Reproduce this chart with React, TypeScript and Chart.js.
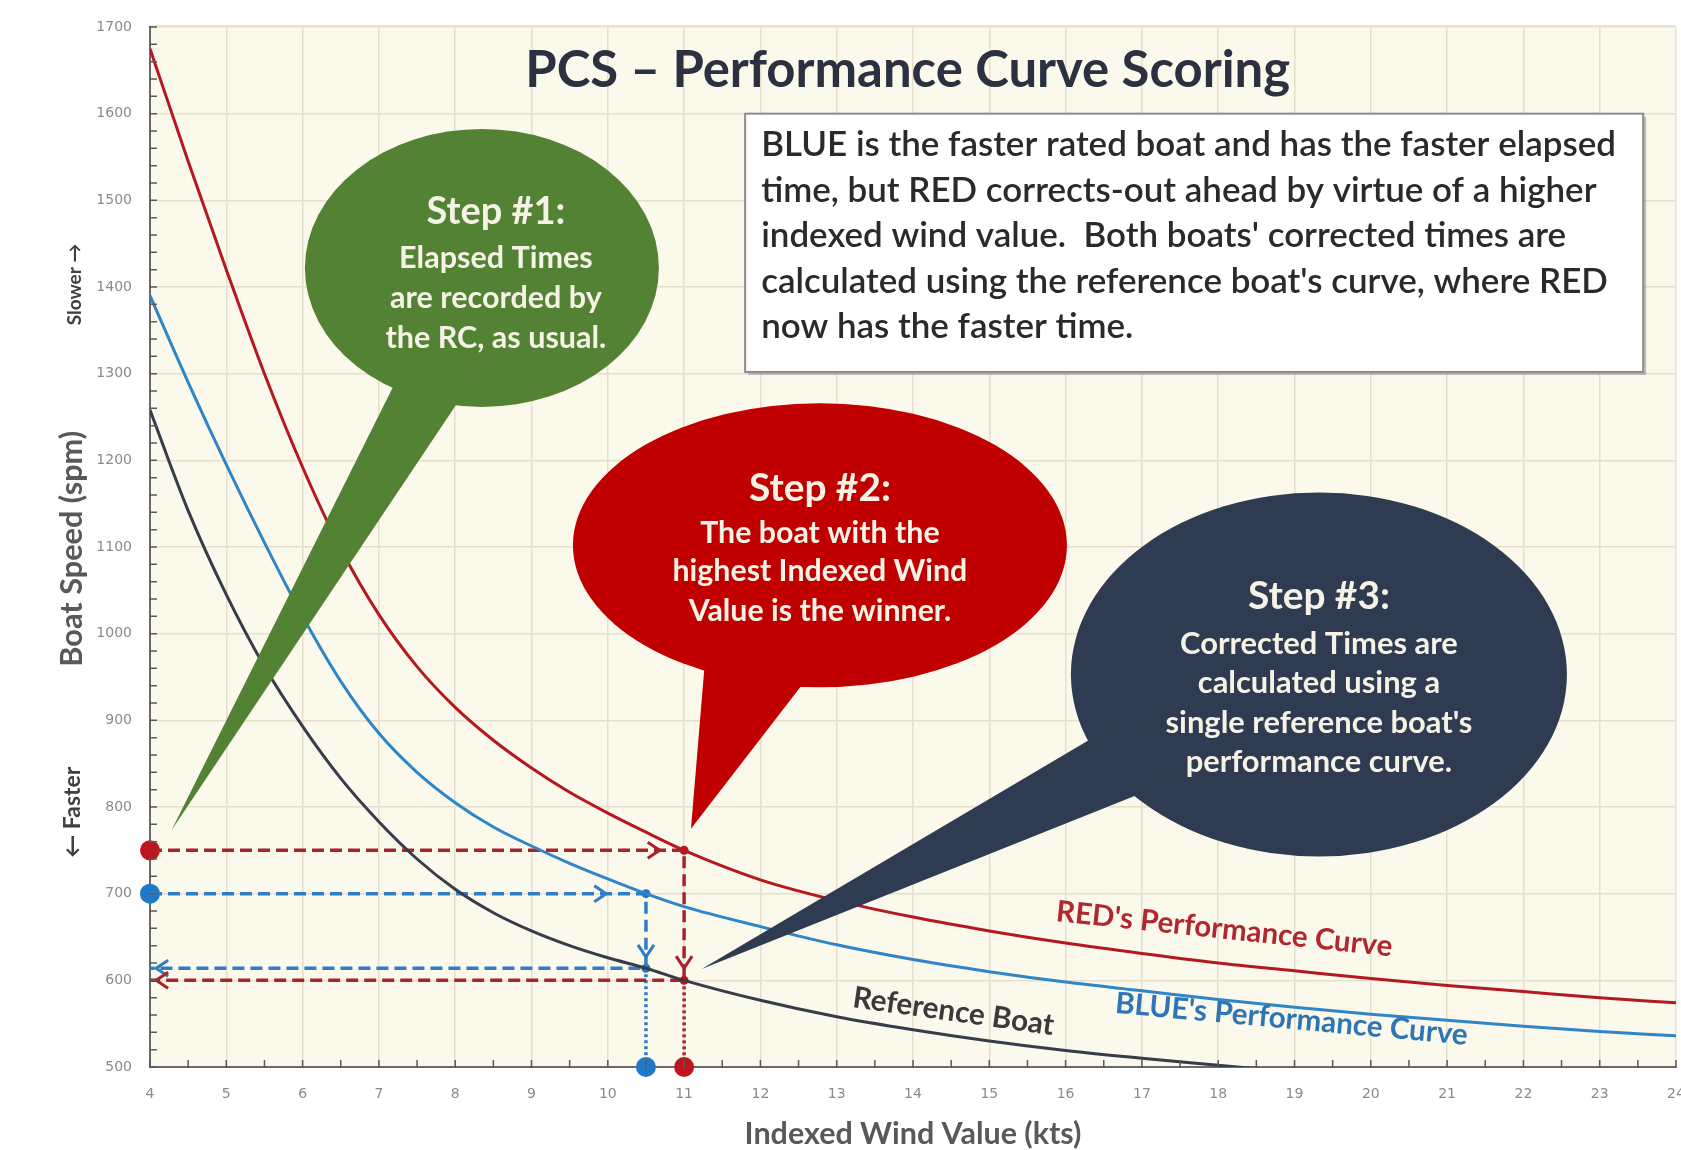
import React, { useEffect, useRef } from "react";
import { Chart, registerables } from "chart.js";

Chart.register(...registerables);

// ---------- data ----------
const windX = [4, 4.5, 5, 5.5, 6, 6.5, 7, 7.5, 8, 8.5, 9, 9.5, 10, 10.5, 11, 12, 13, 14, 15, 16, 17, 18, 19, 20, 21, 22, 23, 24];
const redSpeed = [1675, 1545, 1420, 1300, 1192, 1098, 1022, 962, 915, 877, 845, 817, 793, 771, 750, 716, 692, 673, 657, 643, 631, 620, 611, 602, 594, 587, 580, 574];
const blueSpeed = [1390, 1290, 1195, 1105, 1020, 945, 885, 840, 805, 777, 755, 735, 717, 700, 685, 662, 641, 624, 610, 598, 588, 578, 569, 561, 554, 547, 541, 536];
const refX = [4, 4.5, 5, 5.5, 6, 6.5, 7, 7.5, 8, 8.5, 9, 9.5, 10, 10.5, 11, 12, 13, 14, 15, 16, 17, 18, 19];
const refSpeed = [1258, 1142, 1045, 962, 893, 833, 783, 740, 705, 678, 657, 640, 626, 614, 600, 577, 558, 543, 530, 519, 510, 502, 494];

const redElapsed = 750;
const blueElapsed = 700;
const redWind = 11;
const blueWind = 10.5;
const redCorrected = 600;
const blueCorrected = 614;

const X_MIN = 4;
const X_MAX = 24;
const Y_MIN = 500;
const Y_MAX = 1700;

const titleText = "PCS \u2013 Performance Curve Scoring";
const boxLines = [
  "BLUE is the faster rated boat and has the faster elapsed",
  "time, but RED corrects-out ahead by virtue of a higher",
  "indexed wind value.  Both boats' corrected times are",
  "calculated using the reference boat's curve, where RED",
  "now has the faster time.",
];
const step1Lines = ["Step #1:", "Elapsed Times", "are recorded by", "the RC, as usual."];
const step2Lines = ["Step #2:", "The boat with the", "highest Indexed Wind", "Value is the winner."];
const step3Lines = ["Step #3:", "Corrected Times are", "calculated using a", "single reference boat's", "performance curve."];

// ---------- styles ----------
const FONT = "Lato, 'DejaVu Sans', sans-serif";
const RED = "#B3191F";
const BLUE = "#2E86C8";
const REF = "#363C48";
const RED_DASH = "#A8242B";
const BLUE_DASH = "#2F7DC4";
const PLOT_BG = "#FBF8EC";
const GRID = "#E6DFCA";

const CALLOUTS = [
  { color: "#548235", cx: 8.35, cy: 1422, rx: 177, ry: 139, tip: [4.28, 773], base: [97, 121], lines: step1Lines, offsets: [-56, -10, 30, 70], dx: 14, headW: 139, bodyIdx: 3, bodyW: 221 },
  { color: "#C00000", cx: 12.78, cy: 1102, rx: 247, ry: 142, tip: [11.09, 775], base: [93, 120], lines: step2Lines, offsets: [-57, -12, 26, 66], dx: 0, headW: 142, bodyIdx: 2, bodyW: 295 },
  { color: "#2F3B50", cx: 19.32, cy: 953, rx: 248, ry: 182, tip: [11.23, 613], base: [137, 160], lines: step3Lines, offsets: [-78, -30, 9, 49, 88], dx: 0, headW: 142, bodyIdx: 3, bodyW: 307 },
];

const CURVE_LABELS = [
  { text: "RED's Performance Curve", x: 18.08, y: 659, angle: 6, color: "#B0272D", width: 338 },
  { text: "BLUE's Performance Curve", x: 18.96, y: 555, angle: 5.2, color: "#2E75B6", width: 354 },
  { text: "Reference Boat", x: 14.53, y: 564, angle: 8, color: "#3A3A3A", width: 203 },
];

const ARROWS = [
  { x: 10.68, y: redElapsed, dir: "right", color: RED_DASH },
  { x: 9.98, y: blueElapsed, dir: "right", color: BLUE_DASH },
  { x: blueWind, y: 627, dir: "down", color: BLUE_DASH },
  { x: redWind, y: 614, dir: "down", color: RED_DASH },
  { x: 4.08, y: blueCorrected, dir: "left", color: BLUE_DASH },
  { x: 4.08, y: redCorrected, dir: "left", color: RED_DASH },
];

function fitSize(ctx: CanvasRenderingContext2D, text: string, weight: string, width: number) {
  ctx.font = `${weight} 100px ${FONT}`;
  const w = ctx.measureText(text).width;
  return (100 * width) / w;
}

function chevron(ctx: CanvasRenderingContext2D, px: number, py: number, dir: string, color: string) {
  const s = 12;
  const w = 8;
  ctx.beginPath();
  if (dir === "right") {
    ctx.moveTo(px - s, py - w); ctx.lineTo(px, py); ctx.lineTo(px - s, py + w);
  } else if (dir === "left") {
    ctx.moveTo(px + s, py - w); ctx.lineTo(px, py); ctx.lineTo(px + s, py + w);
  } else {
    ctx.moveTo(px - w, py - s); ctx.lineTo(px, py); ctx.lineTo(px + w, py - s);
  }
  ctx.strokeStyle = color;
  ctx.lineWidth = 3;
  ctx.lineJoin = "miter";
  ctx.setLineDash([]);
  ctx.stroke();
}

const decor = {
  id: "decor",
  beforeDraw(chart: any) {
    const { ctx, chartArea: a, width, height } = chart;
    ctx.save();
    ctx.fillStyle = "#ffffff";
    ctx.fillRect(0, 0, width, height);
    ctx.fillStyle = PLOT_BG;
    ctx.fillRect(a.left, a.top, a.right - a.left, a.bottom - a.top);
    ctx.strokeStyle = "#DADADA";
    ctx.lineWidth = 1.5;
    ctx.beginPath();
    ctx.moveTo(a.left, a.top - 1);
    ctx.lineTo(a.right, a.top - 1);
    ctx.stroke();
    ctx.restore();
  },
  afterDatasetsDraw(chart: any) {
    const { ctx } = chart;
    const xs = chart.scales.x;
    const ys = chart.scales.y;
    const X = (v: number) => xs.getPixelForValue(v);
    const Y = (v: number) => ys.getPixelForValue(v);
    ctx.save();

    // arrows
    ARROWS.forEach((ar) => chevron(ctx, X(ar.x), Y(ar.y), ar.dir, ar.color));

    // title
    const ts = fitSize(ctx, titleText, "bold", 765);
    ctx.font = `bold ${ts}px ${FONT}`;
    ctx.fillStyle = "#2B3140";
    ctx.textAlign = "center";
    ctx.textBaseline = "middle";
    ctx.fillText(titleText, X(13.93), Y(1650));

    // text box
    const bx1 = X(11.8), bx2 = X(23.57), by1 = Y(1600), by2 = Y(1302);
    ctx.fillStyle = "rgba(120,120,120,0.45)";
    ctx.fillRect(bx1 + 3, by1 + 3, bx2 - bx1, by2 - by1);
    ctx.fillStyle = "#ffffff";
    ctx.fillRect(bx1, by1, bx2 - bx1, by2 - by1);
    ctx.strokeStyle = "#8C8C8C";
    ctx.lineWidth = 2;
    ctx.strokeRect(bx1, by1, bx2 - bx1, by2 - by1);
    const bs = fitSize(ctx, boxLines[0], "600", 855);
    ctx.font = `600 ${bs}px ${FONT}`;
    ctx.fillStyle = "#2A2A2A";
    ctx.textAlign = "left";
    const boxY = [1563.6, 1510.6, 1458.7, 1405.7, 1353.8];
    boxLines.forEach((t, i) => ctx.fillText(t, X(12.01), Y(boxY[i])));

    // callouts
    CALLOUTS.forEach((c) => {
      const cx = X(c.cx), cy = Y(c.cy);
      ctx.fillStyle = c.color;
      ctx.beginPath();
      ctx.ellipse(cx, cy, c.rx, c.ry, 0, 0, Math.PI * 2);
      ctx.fill();
      const a1 = (c.base[0] * Math.PI) / 180;
      const a2 = (c.base[1] * Math.PI) / 180;
      const p1x = cx + 0.93 * c.rx * Math.cos(a1), p1y = cy + 0.93 * c.ry * Math.sin(a1);
      const p2x = cx + 0.93 * c.rx * Math.cos(a2), p2y = cy + 0.93 * c.ry * Math.sin(a2);
      const tx = X(c.tip[0]), ty = Y(c.tip[1]);
      ctx.beginPath();
      ctx.moveTo(p1x, p1y);
      ctx.lineTo(tx, ty);
      ctx.lineTo(p2x, p2y);
      ctx.lineTo(cx, cy);
      ctx.closePath();
      ctx.fill();
      const hs = fitSize(ctx, c.lines[0], "bold", c.headW);
      const bsz = fitSize(ctx, c.lines[c.bodyIdx], "bold", c.bodyW);
      ctx.fillStyle = "#F5F2E6";
      ctx.textAlign = "center";
      ctx.textBaseline = "middle";
      c.lines.forEach((t, i) => {
        ctx.font = `bold ${i === 0 ? hs : bsz}px ${FONT}`;
        ctx.fillText(t, cx + c.dx, cy + c.offsets[i]);
      });
    });

    // curve labels
    CURVE_LABELS.forEach((l) => {
      const s = fitSize(ctx, l.text, "bold", l.width);
      ctx.save();
      ctx.translate(X(l.x), Y(l.y));
      ctx.rotate((l.angle * Math.PI) / 180);
      ctx.font = `bold ${s}px ${FONT}`;
      ctx.fillStyle = l.color;
      ctx.textAlign = "center";
      ctx.textBaseline = "middle";
      ctx.fillText(l.text, 0, 0);
      ctx.restore();
    });
    ctx.restore();
  },
  afterDraw(chart: any) {
    const { ctx, chartArea: a } = chart;
    const xs = chart.scales.x;
    const ys = chart.scales.y;
    ctx.save();
    // minor ticks
    ctx.strokeStyle = "#5A5A5A";
    ctx.lineWidth = 1.5;
    ctx.beginPath();
    for (let v = Y_MIN; v <= Y_MAX; v += 20) {
      const y = ys.getPixelForValue(v);
      ctx.moveTo(a.left - 1, y);
      ctx.lineTo(a.left + 7, y);
    }
    for (let v = X_MIN; v <= X_MAX; v += 0.5) {
      const x = xs.getPixelForValue(v);
      ctx.moveTo(x, a.bottom + 1);
      ctx.lineTo(x, a.bottom - 7);
    }
    ctx.stroke();

    // axis titles
    ctx.fillStyle = "#595959";
    ctx.textAlign = "center";
    ctx.textBaseline = "middle";
    const xt = "Indexed Wind Value (kts)";
    ctx.font = `bold ${fitSize(ctx, xt, "bold", 337)}px ${FONT}`;
    ctx.fillText(xt, (a.left + a.right) / 2, 1134);

    const yTitles = [
      { t: "Slower \u2192", v: 1403, w: 82, x: 75, c: "#404040" },
      { t: "Boat Speed (spm)", v: 1098, w: 236, x: 72, c: "#595959" },
      { t: "\u2190 Faster", v: 794, w: 91, x: 73, c: "#404040" },
    ];
    yTitles.forEach((yt) => {
      ctx.save();
      ctx.translate(yt.x, ys.getPixelForValue(yt.v));
      ctx.rotate(-Math.PI / 2);
      ctx.fillStyle = yt.c;
      ctx.font = `bold ${fitSize(ctx, yt.t, "bold", yt.w)}px ${FONT}`;
      ctx.fillText(yt.t, 0, 0);
      ctx.restore();
    });
    ctx.restore();
  },
};

function pts(xv: number[], yv: number[]) {
  return xv.map((x, i) => ({ x, y: yv[i] }));
}

export default function App() {
  const ref = useRef<HTMLCanvasElement>(null);
  useEffect(() => {
    document.body.style.margin = "0";
    const canvas = ref.current as HTMLCanvasElement;
    const curve = (data: any, color: string) => ({
      data,
      borderColor: color,
      borderWidth: 3,
      pointRadius: 0,
      cubicInterpolationMode: "monotone",
      fill: false,
    });
    const guide = (data: any, color: string, dash: number[]) => ({
      data,
      borderColor: color,
      borderWidth: 3.5,
      borderDash: dash,
      pointRadius: 0,
      tension: 0,
      fill: false,
    });
    const markers = (data: any, color: string, r: number) => ({
      data,
      showLine: false,
      pointRadius: r,
      pointBackgroundColor: color,
      pointBorderColor: color,
      pointBorderWidth: 0,
      clip: false,
    });
    const tickFont = { family: "'DejaVu Sans'", size: 14 };
    const chart = new Chart(canvas, {
      type: "line",
      data: {
        datasets: [
          curve(pts(refX, refSpeed), REF),
          curve(pts(windX, blueSpeed), BLUE),
          curve(pts(windX, redSpeed), RED),
          guide(
            [
              { x: X_MIN, y: redElapsed },
              { x: redWind, y: redElapsed },
              { x: redWind, y: redCorrected },
              { x: X_MIN, y: redCorrected },
            ],
            RED_DASH,
            [12, 6]
          ),
          guide([{ x: redWind, y: redCorrected }, { x: redWind, y: Y_MIN }], RED_DASH, [3, 3]),
          guide(
            [
              { x: X_MIN, y: blueElapsed },
              { x: blueWind, y: blueElapsed },
              { x: blueWind, y: blueCorrected },
              { x: X_MIN, y: blueCorrected },
            ],
            BLUE_DASH,
            [12, 6]
          ),
          guide([{ x: blueWind, y: blueCorrected }, { x: blueWind, y: Y_MIN }], BLUE_DASH, [3, 3]),
          markers([{ x: X_MIN, y: redElapsed }, { x: redWind, y: Y_MIN }], "#C0141C", 10),
          markers([{ x: X_MIN, y: blueElapsed }, { x: blueWind, y: Y_MIN }], "#1F78C8", 10),
          markers([{ x: redWind, y: redElapsed }, { x: redWind, y: redCorrected }], "#C0141C", 4.5),
          markers([{ x: blueWind, y: blueElapsed }, { x: blueWind, y: blueCorrected }], "#1F78C8", 4.5),
        ] as any,
      },
      options: {
        responsive: false,
        animation: false,
        events: [],
        layout: { autoPadding: false, padding: { top: 27, right: 5, left: 0, bottom: 0 } },
        plugins: { legend: { display: false }, tooltip: { enabled: false }, title: { display: false } },
        scales: {
          x: {
            type: "linear",
            min: X_MIN,
            max: X_MAX,
            ticks: { stepSize: 1, color: "#8A8A8A", font: tickFont, padding: 19, callback: (v: any) => String(v) },
            grid: { color: GRID, lineWidth: 1.5, drawTicks: false },
            border: { display: true, color: "#6A6A6A", width: 2 },
            afterFit: (s: any) => {
              s.height = 83;
              s.paddingLeft = 0;
              s.paddingRight = 0;
            },
          },
          y: {
            type: "linear",
            min: Y_MIN,
            max: Y_MAX,
            ticks: { stepSize: 100, color: "#8A8A8A", font: tickFont, padding: 18, callback: (v: any) => String(v) },
            grid: { color: GRID, lineWidth: 1.5, drawTicks: false },
            border: { display: true, color: "#6A6A6A", width: 2 },
            afterFit: (s: any) => {
              s.width = 150;
            },
          },
        },
      } as any,
      plugins: [decor as any],
    });
    const fonts: any = (document as any).fonts;
    if (fonts && fonts.load) {
      Promise.all([fonts.load(`bold 20px Lato`), fonts.load(`20px Lato`), fonts.load(`600 20px Lato`)])
        .then(() => chart.update())
        .catch(() => {});
    }
    return () => chart.destroy();
  }, []);
  return <canvas ref={ref} width={1681} height={1150} style={{ display: "block", width: 1681, height: 1150 }} />;
}
